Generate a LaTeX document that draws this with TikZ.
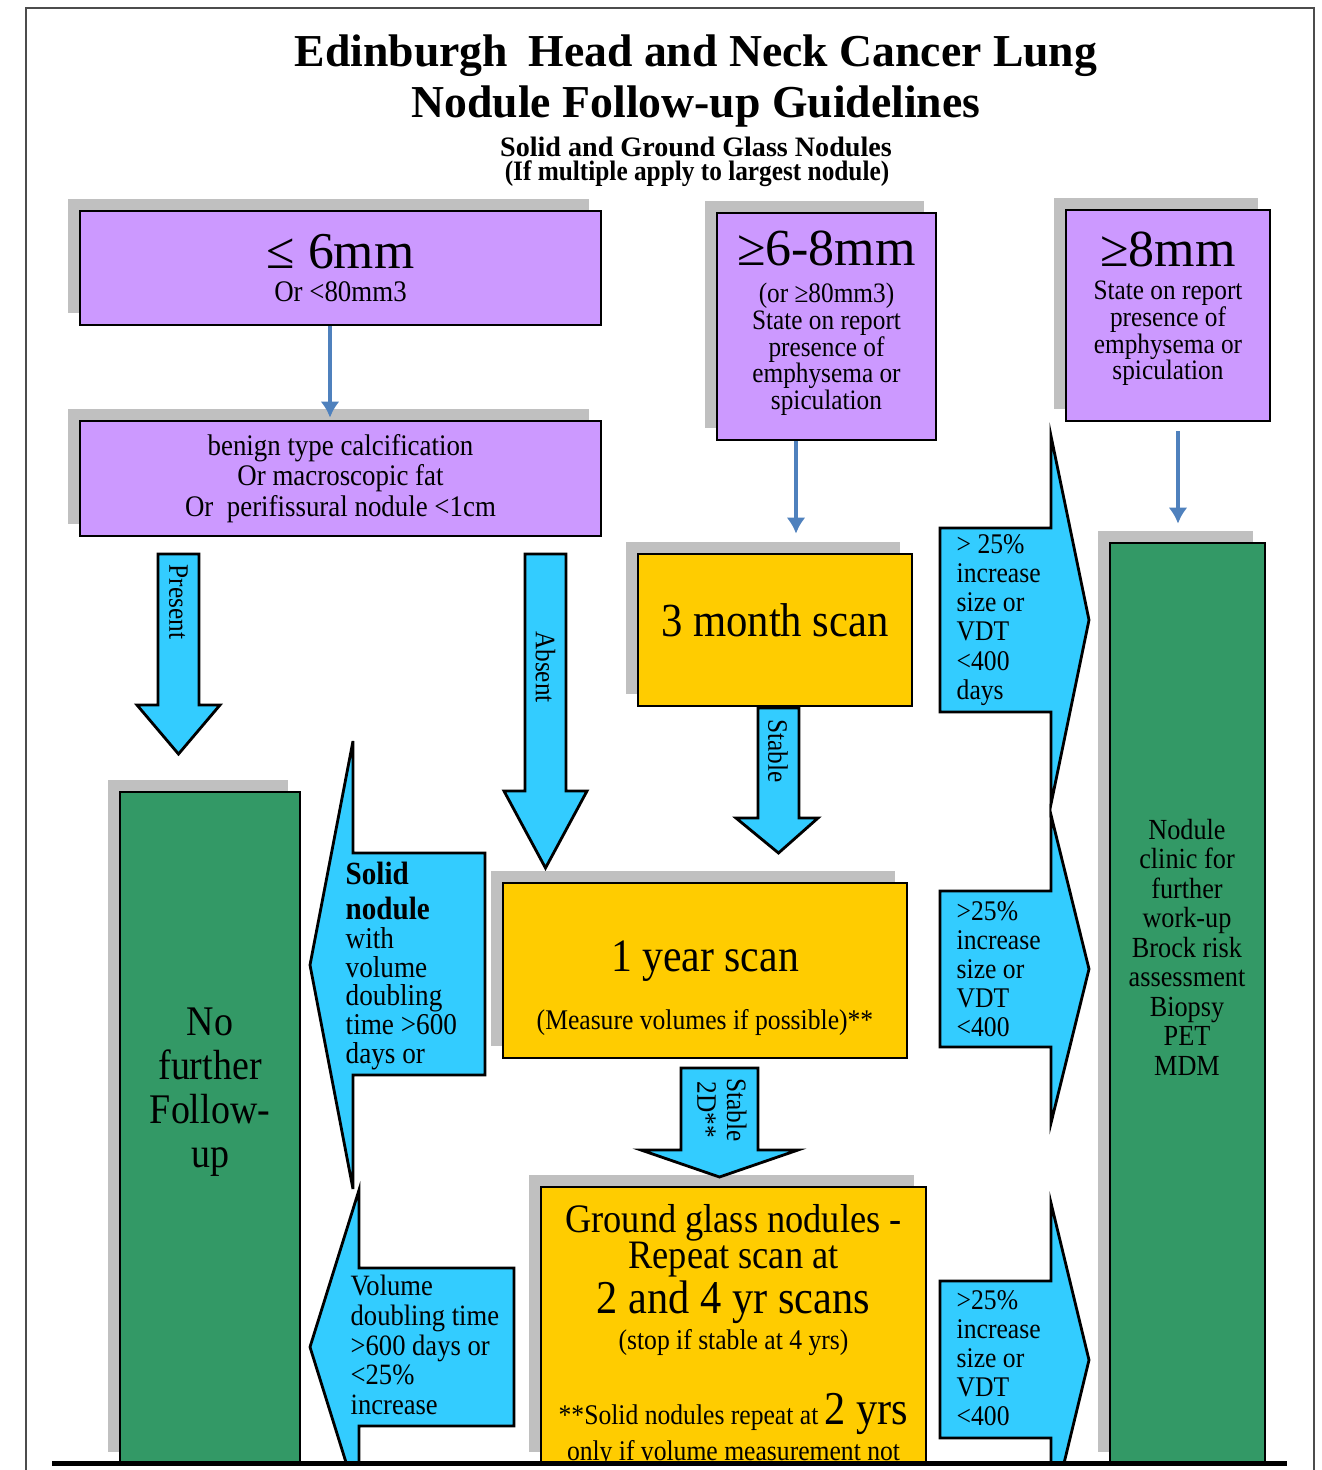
\documentclass[tikz,border=0pt]{standalone}
\usepackage{fontspec}
\setmainfont{Liberation Serif}
\newfontfamily\bodyfont[FakeStretch=0.9]{Liberation Serif}
\usetikzlibrary{arrows.meta,shadows}

\definecolor{lavender}{RGB}{204,153,255}
\definecolor{amber}{RGB}{255,204,0}
\definecolor{seagreen}{RGB}{51,153,102}
\definecolor{skyblue}{RGB}{51,204,255}
\definecolor{shadowgrey}{RGB}{192,192,192}
\definecolor{linkblue}{RGB}{79,129,189}

\newcommand{\setsize}[2]{\fontsize{#1}{#2}\selectfont}

\tikzset{
  box/.style={draw=black, line width=0.8pt, inner sep=0pt, align=center,
    drop shadow={shadow xshift=-1.25mm, shadow yshift=1.25mm, fill=shadowgrey, opacity=1}},
  purplebox/.style={box, fill=lavender},
  goldbox/.style={box, fill=amber},
  greenbox/.style={box, fill=seagreen},
  blockarrow/.style={draw=black, line width=0.8pt, fill=skyblue, line join=miter},
  link/.style={draw=linkblue, line width=1pt, -{Latex[length=1.6mm,width=1.9mm]}},
  txt/.style={inner sep=0pt, align=center, font={\bodyfont\setsize{8.4pt}{8.4pt}}},
}

\begin{document}
\begin{tikzpicture}[x=0.1mm, y=-0.1mm]
\path[fill=white, use as bounding box] (0,0) rectangle (1322,1470);

% Title
\node[font={\setsize{13pt}{14.7pt}\bfseries}, align=center] (title) at (696,81)
  {Edinburgh\hspace{0.2em} Head and Neck Cancer Lung\\Nodule Follow-up Guidelines};
\node[font={\setsize{8pt}{8pt}\bfseries}] (subtitle) at (696,147) {Solid and Ground Glass Nodules};
\node[font={\bodyfont\setsize{8pt}{8pt}\bfseries}] (largest) at (697,174) {(If multiple apply to largest nodule)};

\begin{scope}
\clip (0,0) rectangle (1322,1463);

% Boxes
\node[purplebox, minimum width=52.1mm, minimum height=11.4mm, font={\bodyfont\setsize{8.5pt}{8.5pt}}] (small) at (340.5,268)
  {{\rmfamily\setsize{14.7pt}{15pt}≤ 6mm}\\[0.7pt]Or <80mm3};
\node[purplebox, minimum width=52.1mm, minimum height=11.5mm, font={\bodyfont\setsize{8.5pt}{8.6pt}}] (calcified) at (340.5,478.5)
  {benign type calcification\\Or macroscopic fat\\Or\ \ perifissural nodule <1cm};
\node[purplebox, minimum width=21.9mm, minimum height=22.7mm] (mid) at (826.5,326.5) {};
\node[purplebox, minimum width=20.4mm, minimum height=21.1mm] (large) at (1168,315.5) {};
\node[goldbox, minimum width=27.4mm, minimum height=15.2mm] (threemonth) at (775,630) {};
\node[goldbox, minimum width=40.4mm, minimum height=17.5mm] (oneyear) at (705,970.5) {};
\node[goldbox, minimum width=38.5mm, minimum height=27.7mm] (groundglass) at (733.5,1325.5) {};
\node[greenbox, minimum width=18mm, minimum height=67.2mm] (nofollow) at (210,1128) {};
\node[greenbox, minimum width=15.5mm, minimum height=92.1mm] (clinic) at (1187.5,1003.5) {};

% Box texts
\node[txt, font={\bodyfont\setsize{8pt}{7.6pt}}] (mid-text) at (826.5,323.5)
  {{\rmfamily\setsize{14.8pt}{15pt}≥6-8mm}\\[2.9pt](or ≥80mm3)\\State on report\\presence of\\emphysema or\\spiculation};
\node[txt, font={\bodyfont\setsize{8pt}{7.6pt}}] (large-text) at (1168,309)
  {{\rmfamily\setsize{14.8pt}{15pt}≥8mm}\\[1.7pt]State on report\\presence of\\emphysema or\\spiculation};
\node[txt, font={\bodyfont\setsize{13.5pt}{14pt}}] (threemonth-text) at (775,620) {3 month scan};
\node[txt, font={\bodyfont\setsize{8.1pt}{9pt}}] (oneyear-text) at (705,988)
  {{\setsize{13.2pt}{14pt}1 year scan}\\[7.5pt](Measure volumes if possible)**};
\node[txt, anchor=north, font={\bodyfont\setsize{8.1pt}{10.2pt}}] (groundglass-text) at (733.5,1204)
  {{\setsize{11.5pt}{12pt}Ground glass nodules -}\\{\setsize{11.5pt}{12pt}Repeat scan at}\\
   {\setsize{13.4pt}{14pt}2 and 4 yr scans}\\(stop if stable at 4 yrs)\\[9.7pt]
   **Solid nodules repeat at {\setsize{13.4pt}{14pt}2 yrs}\\only if volume measurement not};
\node[txt, font={\bodyfont\setsize{12pt}{12.5pt}}] (nofollow-text) at (210,1092) {No\\further\\Follow-\\up};
\node[txt, font={\bodyfont\setsize{8.3pt}{8.4pt}}] (clinic-text) at (1187,947)
  {Nodule\\clinic for\\further\\work-up\\Brock risk\\assessment\\Biopsy\\PET\\MDM};

% Block arrows pointing down
\foreach \n/\xl/\xr/\ya/\hy/\hl/\hr/\tip in {present/158/199/554/705/137/220/754, absent/525/566/554/791/504/587/868,
    stable/758/799/708/818/736/818/853, stabletwo/681/758/1068/1150/641/798/1177}
  \draw[blockarrow] (\xl,\ya) -- (\xr,\ya) -- (\xr,\hy) -- (\hr,\hy) -- ({(\xl+\xr)/2},\tip) -- (\hl,\hy) -- (\xl,\hy) -- cycle;
\node[txt, rotate=-90, font={\bodyfont\setsize{8pt}{8pt}}] (present-lbl) at (178.5,602) {Present};
\node[txt, rotate=-90, font={\bodyfont\setsize{8pt}{8pt}}] (absent-lbl) at (545.5,667) {Absent};
\node[txt, rotate=-90, font={\bodyfont\setsize{8pt}{8pt}}] (stable-lbl) at (778,751) {Stable};
\node[txt, rotate=-90, font={\bodyfont\setsize{8pt}{8.5pt}}] (stabletwo-lbl) at (722,1110) {Stable\\2D**};

% Block arrows pointing right
\foreach \n/\ya/\yb/\ha/\hb/\mid in {1/528/712/436/804/620, 2/891/1047/815/1123/969, 3/1281/1438/1203/1517/1360}
  \draw[blockarrow] (940,\ya) -- (1051,\ya) -- (1051,\ha) -- (1089,\mid) -- (1051,\hb) -- (1051,\yb) -- (940,\yb) -- cycle;
\node[txt, anchor=west, align=left, font={\bodyfont\setsize{8.1pt}{8.3pt}}] (grow1) at (956,620)
  {> 25\%\\increase\\size or\\VDT\\<400\\days};
\node[txt, anchor=west, align=left, font={\bodyfont\setsize{8.1pt}{8.3pt}}] (grow2) at (956,969)
  {>25\%\\increase\\size or\\VDT\\<400};
\node[txt, anchor=west, align=left, font={\bodyfont\setsize{8.1pt}{8.3pt}}] (grow3) at (956,1358)
  {>25\%\\increase\\size or\\VDT\\<400};

% Block arrows pointing left
\draw[blockarrow] (485,853) -- (353,853) -- (353,741) -- (310,965) -- (353,1189) -- (353,1075) -- (485,1075) -- cycle;
\draw[blockarrow] (514,1268) -- (359,1268) -- (359,1190) -- (310,1347) -- (359,1504) -- (359,1426) -- (514,1426) -- cycle;
\node[txt, anchor=west, align=left, font={\bodyfont\setsize{8.6pt}{8.2pt}}] (solid-lbl) at (345,966)
  {{\bfseries\setsize{9.2pt}{10pt}Solid}\\[1.8pt]{\bfseries\setsize{9.2pt}{10pt}nodule}\\with\\volume\\doubling\\time >600\\days or};
\node[txt, anchor=west, align=left, font={\bodyfont\setsize{8.4pt}{8.5pt}}] (volume-lbl) at (350,1345)
  {Volume\\doubling time\\>600 days or\\<25\%\\increase};

% Connectors
\coordinate (ab) at ([xshift=-1.05mm]small.south);
\coordinate (ce) at ([xshift=-3.05mm]mid.south);
\coordinate (di) at ([xshift=1mm]large.south);
\draw[link, shorten >=0.2mm] (ab) -- (ab |- calcified.north);
\draw[link, shorten >=1.9mm] (ce) -- (ce |- threemonth.north);
\draw[link, shorten <=0.9mm, shorten >=1.8mm] (di) -- (di |- clinic.north);
\end{scope}

% Frame
\draw[black!70, line width=0.6pt] (26,1470) |- (1314,8) -- (1314,1470);
\draw[line width=1.2pt] (52,1463.5) -- (1287,1463.5);
\end{tikzpicture}
\end{document}
